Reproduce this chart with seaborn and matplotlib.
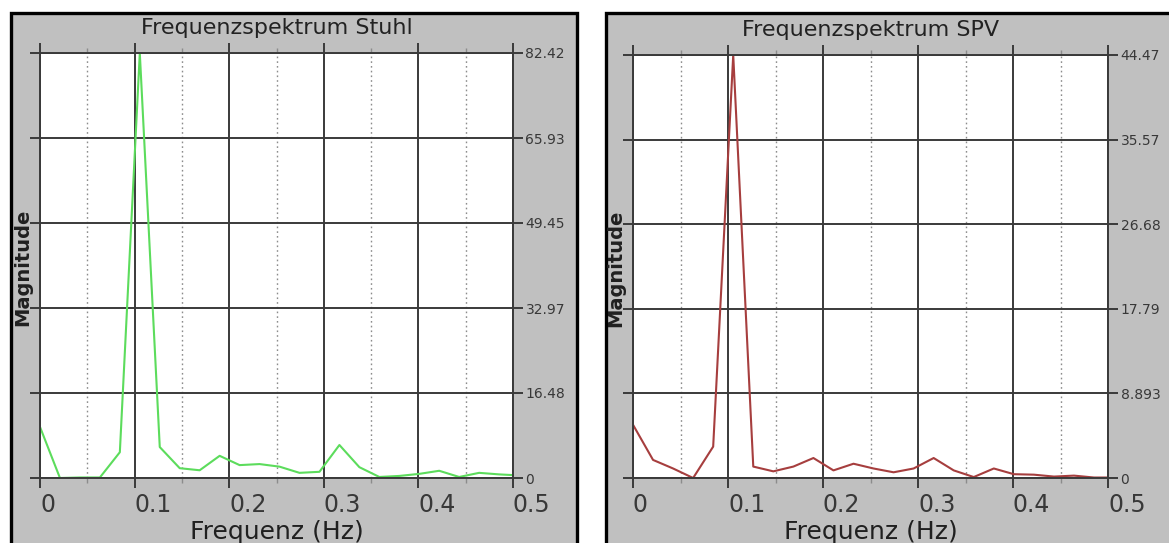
import numpy as np
import matplotlib
matplotlib.use("Agg")
import matplotlib.pyplot as plt
from matplotlib.patches import Rectangle
from matplotlib.ticker import FixedLocator
import seaborn as sns

# ---------------- data ----------------
freq_hz = [0.0, 0.0211, 0.0422, 0.0633, 0.0844, 0.1055, 0.1266, 0.1477, 0.1688,
           0.1899, 0.2110, 0.2321, 0.2532, 0.2743, 0.2954, 0.3165, 0.3376, 0.3587,
           0.3798, 0.4009, 0.4220, 0.4431, 0.4642, 0.4853, 0.5064]

stuhl_magnitude = [9.9, 0.0, 0.1, 0.1, 5.0, 82.415, 6.0, 1.9, 1.5, 4.3, 2.5, 2.7,
                   2.2, 1.0, 1.2, 6.4, 2.1, 0.2, 0.4, 0.8, 1.4, 0.2, 1.0, 0.7, 0.5]

spv_magnitude = [5.6, 1.9, 1.0, 0.0, 3.3, 44.4668, 1.2, 0.7, 1.2, 2.1, 0.8, 1.5,
                 1.0, 0.6, 1.0, 2.1, 0.8, 0.1, 1.0, 0.4, 0.35, 0.15, 0.25, 0.05, 0.05]

x_tick_values = [0.0, 0.1, 0.2, 0.3, 0.4, 0.5]
x_tick_labels = ["0", "0.1", "0.2", "0.3", "0.4", "0.5"]
x_minor_values = [0.05, 0.15, 0.25, 0.35, 0.45]

stuhl_ytick_labels = ["0", "16.48", "32.97", "49.45", "65.93", "82.42"]
spv_ytick_labels = ["0", "8.893", "17.79", "26.68", "35.57", "44.47"]

titles = ["Frequenzspektrum Stuhl", "Frequenzspektrum SPV"]
x_label = "Frequenz (Hz)"
y_label = "Magnitude"

# ---------------- style ----------------
sns.set_theme(style="white")
plt.rcParams["font.family"] = ["DejaVu Sans"]

W, H = 1169, 543
fig = plt.figure(figsize=(W / 100, H / 100), dpi=100, facecolor="white")

GRID = "#3a3a3a"
MINOR = "#8c8c8c"
PANEL = "#c0c0c0"

# gray panels with black frames (bottom edge lies outside the figure)
for x0, w in [(11, 566), (606, 570)]:
    fig.add_artist(Rectangle((x0 / W, -0.05), w / W, (H - 13) / H + 0.05,
                             transform=fig.transFigure, facecolor=PANEL,
                             edgecolor="black", linewidth=2.4, zorder=-1))

ax1 = fig.add_axes([40 / W, 65 / H, 473 / W, 425 / H])
ax2 = fig.add_axes([633 / W, 65 / H, 475 / W, 423 / H])

specs = [
    (ax1, stuhl_magnitude, stuhl_ytick_labels, "#5cdc5c", titles[0]),
    (ax2, spv_magnitude, spv_ytick_labels, "#a63e3e", titles[1]),
]

for ax, vals, ylabels, color, title in specs:
    ax.set_facecolor("white")
    sns.lineplot(x=freq_hz, y=vals, ax=ax, color=color, linewidth=1.5)

    ymax = max(vals)
    ax.set_xlim(0, 0.5)
    ax.set_ylim(0, ymax)

    ax.xaxis.set_major_locator(FixedLocator(x_tick_values))
    ax.set_xticklabels(x_tick_labels, ha="left")
    ax.xaxis.set_minor_locator(FixedLocator(x_minor_values))
    ax.set_yticks(np.linspace(0, ymax, len(ylabels)))
    ax.set_yticklabels(ylabels)

    ax.grid(True, which="major", axis="both", color=GRID, linewidth=1.4, linestyle="-")
    ax.grid(True, which="minor", axis="x", color=MINOR, linewidth=1.0,
            linestyle=(0, (1.2, 2.2)))
    ax.set_axisbelow(True)

    ax.tick_params(axis="x", which="major", direction="out", length=7, width=1.4,
                   color=GRID, top=True, bottom=True, labelsize=17, pad=4,
                   labelcolor="#383838")
    ax.tick_params(axis="x", which="minor", direction="out", length=3.5, width=1.0,
                   color=MINOR, top=True, bottom=True)
    ax.tick_params(axis="y", which="major", direction="out", length=7, width=1.4,
                   color=GRID, left=True, right=True, labelleft=False,
                   labelright=True, labelsize=10, pad=2, labelcolor="#383838")

    for sp in ax.spines.values():
        sp.set_visible(True)
        sp.set_color(GRID)
        sp.set_linewidth(1.4)

    ax.set_title(title, fontsize=16, y=1.045, pad=0, color="#222222")
    ax.set_xlabel(x_label, fontsize=18, color="#202020")
    ax.xaxis.set_label_coords(0.5, -0.10)
    ax.set_ylabel(y_label, fontsize=14, fontweight="bold", color="#202020")
    ax.yaxis.set_label_coords(-0.036, 0.496)
    ax.yaxis.label.set_va("center")

fig.savefig("out.png", dpi=100, facecolor="white")
